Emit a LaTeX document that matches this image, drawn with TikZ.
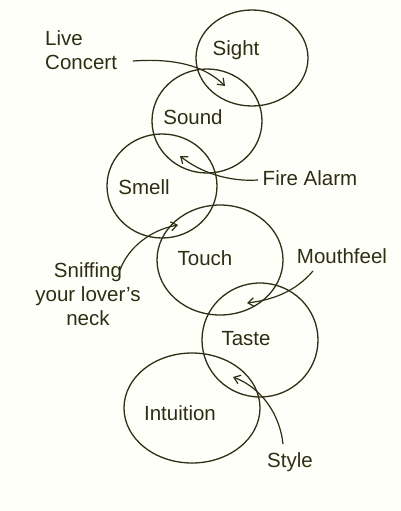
\documentclass[tikz,border=0pt]{standalone}
\usepackage{fontspec}
\setmainfont{Liberation Sans}
\usetikzlibrary{shapes.geometric,arrows.meta}
\definecolor{ink}{HTML}{2E2E14}
\definecolor{paper}{HTML}{FFFFF9}
\begin{document}
\begin{tikzpicture}[x=1pt,y=-1pt,
  sense/.style={draw=ink,line width=1.3pt,ellipse,inner sep=0pt},
  lbl/.style={text=ink,font=\fontsize{20.5}{24}\selectfont,inner sep=0pt},
  pointer/.style={draw=ink,line width=1.2pt,-{Straight Barb[length=6pt,width=9pt]}}]
\fill[paper] (0,0) rectangle (401,511);
\useasboundingbox (0,0) rectangle (401,511);
% circles
\node[sense,minimum width=112pt,minimum height=96pt] (sight) at (252,58) {};
\node[sense,minimum width=110pt,minimum height=104pt] (sound) at (207,121) {};
\node[sense,minimum width=110pt,minimum height=104pt] (smell) at (162,186) {};
\node[sense,minimum width=126pt,minimum height=110pt] (touch) at (220,260) {};
\node[sense,minimum width=116pt,minimum height=114pt] (taste) at (260,340) {};
\node[sense,minimum width=136pt,minimum height=110pt] (intuition) at (192,408) {};
% circle labels
\node[lbl] (tsight) at (236,50) {Sight};
\node[lbl] (tsound) at (193,117) {Sound};
\node[lbl] (tsmell) at (144,187) {Smell};
\node[lbl] (ttouch) at (205,258) {Touch};
\node[lbl] (ttaste) at (246,339) {Taste};
\node[lbl] (tintuition) at (180,413) {Intuition};
% side labels
\node[lbl,align=left,anchor=west] (live) at (45,50) {Live\\Concert};
\node[lbl] (fire) at (310,178) {Fire Alarm};
\node[lbl,align=center] (sniff) at (88,294) {Sniffing\\your lover's\\neck};
\node[lbl] (mouth) at (342,256) {Mouthfeel};
\node[lbl] (style) at (290,462) {Style};
% arrow ends
\coordinate (ls0) at (133,61);
\coordinate (ls) at (225,86);
\coordinate (sm0) at (258,180);
\coordinate (sm) at (180,156);
\coordinate (st0) at (120,270);
\coordinate (st) at (178,225);
\coordinate (tt0) at (313,271);
\coordinate (tt) at (247,303);
\coordinate (ti0) at (283,444);
\coordinate (ti) at (233,377);
% arrows
\draw[pointer] (ls0) .. controls (175,58) and (205,66) .. (ls);
\draw[pointer] (sm0) .. controls (228,182) and (200,172) .. (sm);
\draw[pointer] (st0) .. controls (128,248) and (150,230) .. (st);
\draw[pointer] (tt0) .. controls (295,292) and (272,300) .. (tt);
\draw[pointer] (ti0) .. controls (280,415) and (262,388) .. (ti);
\end{tikzpicture}
\end{document}
